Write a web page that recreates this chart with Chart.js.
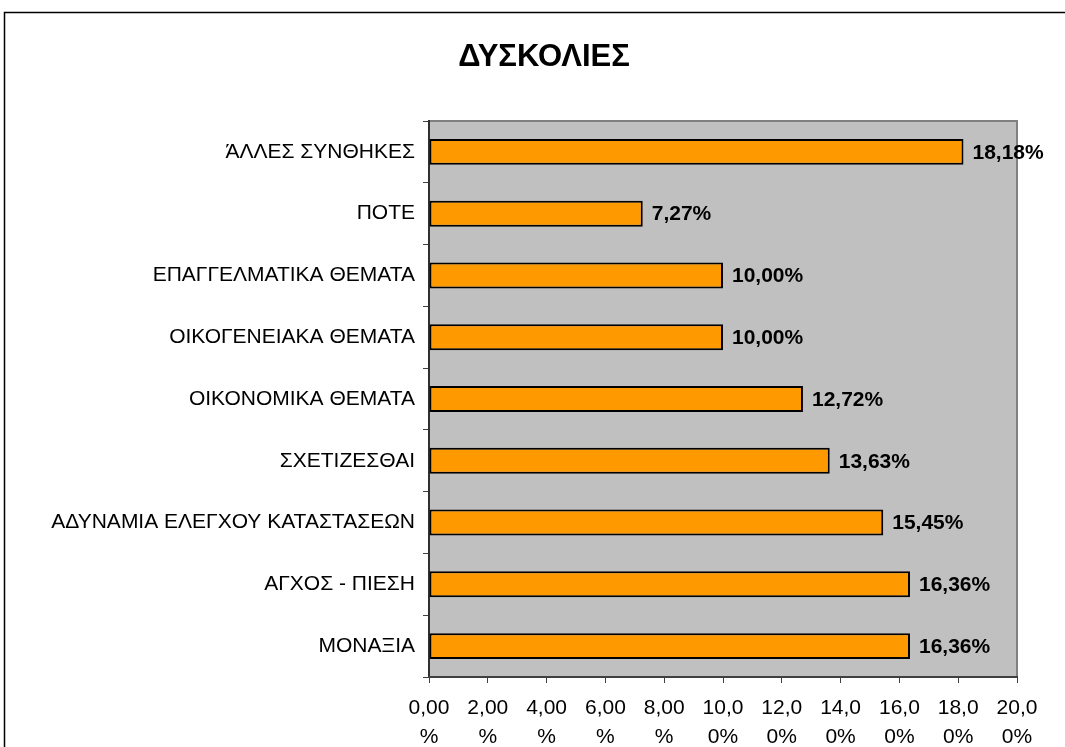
<!DOCTYPE html>
<html>
<head>
    <title>ΔΥΣΚΟΛΙΕΣ</title>
    <script src="https://cdn.jsdelivr.net/npm/chart.js"></script>
    <style>
        body { margin: 0; background: #fff; overflow: hidden; }
    </style>
</head>
<body>
    <canvas id="myChart" width="1065" height="747"></canvas>

    <script>
        // data
        const chartTitle = 'ΔΥΣΚΟΛΙΕΣ';
        const categories = [
            'ΆΛΛΕΣ ΣΥΝΘΗΚΕΣ',
            'ΠΟΤΕ',
            'ΕΠΑΓΓΕΛΜΑΤΙΚΑ ΘΕΜΑΤΑ',
            'ΟΙΚΟΓΕΝΕΙΑΚΑ ΘΕΜΑΤΑ',
            'ΟΙΚΟΝΟΜΙΚΑ ΘΕΜΑΤΑ',
            'ΣΧΕΤΙΖΕΣΘΑΙ',
            'ΑΔΥΝΑΜΙΑ ΕΛΕΓΧΟΥ ΚΑΤΑΣΤΑΣΕΩΝ',
            'ΑΓΧΟΣ - ΠΙΕΣΗ',
            'ΜΟΝΑΞΙΑ'
        ];
        const percentages = [18.18, 7.27, 10.00, 10.00, 12.72, 13.63, 15.45, 16.36, 16.36];
        const valueLabels = ['18,18%', '7,27%', '10,00%', '10,00%', '12,72%', '13,63%', '15,45%', '16,36%', '16,36%'];
        const xTickLabels = [
            ['0,00', '%'], ['2,00', '%'], ['4,00', '%'], ['6,00', '%'], ['8,00', '%'],
            ['10,0', '0%'], ['12,0', '0%'], ['14,0', '0%'], ['16,0', '0%'], ['18,0', '0%'], ['20,0', '0%']
        ];

        const FONT = '"Liberation Sans", Arial, sans-serif';

        // frame, grey plot area, title and value labels
        const decorPlugin = {
            id: 'decor',
            beforeDraw(chart) {
                const ctx = chart.ctx;
                const a = chart.chartArea;
                ctx.save();
                ctx.fillStyle = '#ffffff';
                ctx.fillRect(0, 0, chart.width, chart.height);
                ctx.strokeStyle = '#000000';
                ctx.lineWidth = 1.5;
                ctx.strokeRect(4.5, 12.5, 3000, 3000);
                ctx.fillStyle = '#c0c0c0';
                ctx.fillRect(a.left, a.top, a.right - a.left, a.bottom - a.top);
                ctx.strokeStyle = '#808080';
                ctx.lineWidth = 2;
                ctx.beginPath();
                ctx.moveTo(a.left, a.top);
                ctx.lineTo(a.right, a.top);
                ctx.lineTo(a.right, a.bottom);
                ctx.stroke();
                ctx.fillStyle = '#000000';
                ctx.font = 'bold 31px ' + FONT;
                ctx.textAlign = 'center';
                ctx.textBaseline = 'alphabetic';
                ctx.fillText(chartTitle, 544, 66);
                ctx.restore();
            },
            afterDatasetsDraw(chart) {
                const ctx = chart.ctx;
                const meta = chart.getDatasetMeta(0);
                ctx.save();
                ctx.fillStyle = '#000000';
                ctx.font = 'bold 21px ' + FONT;
                ctx.textAlign = 'left';
                ctx.textBaseline = 'middle';
                meta.data.forEach((bar, i) => {
                    ctx.fillText(valueLabels[i], bar.x + 9, bar.y + 1);
                });
                ctx.restore();
            }
        };

        const ctx = document.getElementById('myChart').getContext('2d');
        const myChart = new Chart(ctx, {
            type: 'bar',
            data: {
                labels: categories,
                datasets: [{
                    data: percentages,
                    backgroundColor: '#ff9900',
                    borderColor: '#000000',
                    borderWidth: 2,
                    borderSkipped: false,
                    categoryPercentage: 1.0,
                    barPercentage: 0.42
                }]
            },
            options: {
                indexAxis: 'y',
                responsive: false,
                animation: false,
                layout: { padding: { top: 121, right: 48, left: 0, bottom: 0 } },
                plugins: {
                    legend: { display: false },
                    title: { display: false },
                    tooltip: { enabled: false }
                },
                scales: {
                    y: {
                        afterFit(scale) { scale.width = 429; },
                        grid: {
                            offset: true,
                            drawOnChartArea: false,
                            tickLength: 6,
                            color: '#404040'
                        },
                        border: { color: '#303030', width: 2 },
                        ticks: {
                            color: '#000000',
                            padding: 8,
                            font: { family: FONT, size: 21 }
                        }
                    },
                    x: {
                        min: 0,
                        max: 20,
                        afterFit(scale) { scale.height = 70; },
                        grid: {
                            drawOnChartArea: false,
                            tickLength: 6,
                            color: '#404040'
                        },
                        border: { color: '#404040', width: 2 },
                        ticks: {
                            stepSize: 2,
                            color: '#000000',
                            padding: 11,
                            maxRotation: 0,
                            autoSkip: false,
                            font: { family: FONT, size: 21, lineHeight: 1.38 },
                            callback: (value, index) => xTickLabels[index]
                        }
                    }
                }
            },
            plugins: [decorPlugin]
        });
    </script>
</body>
</html>
